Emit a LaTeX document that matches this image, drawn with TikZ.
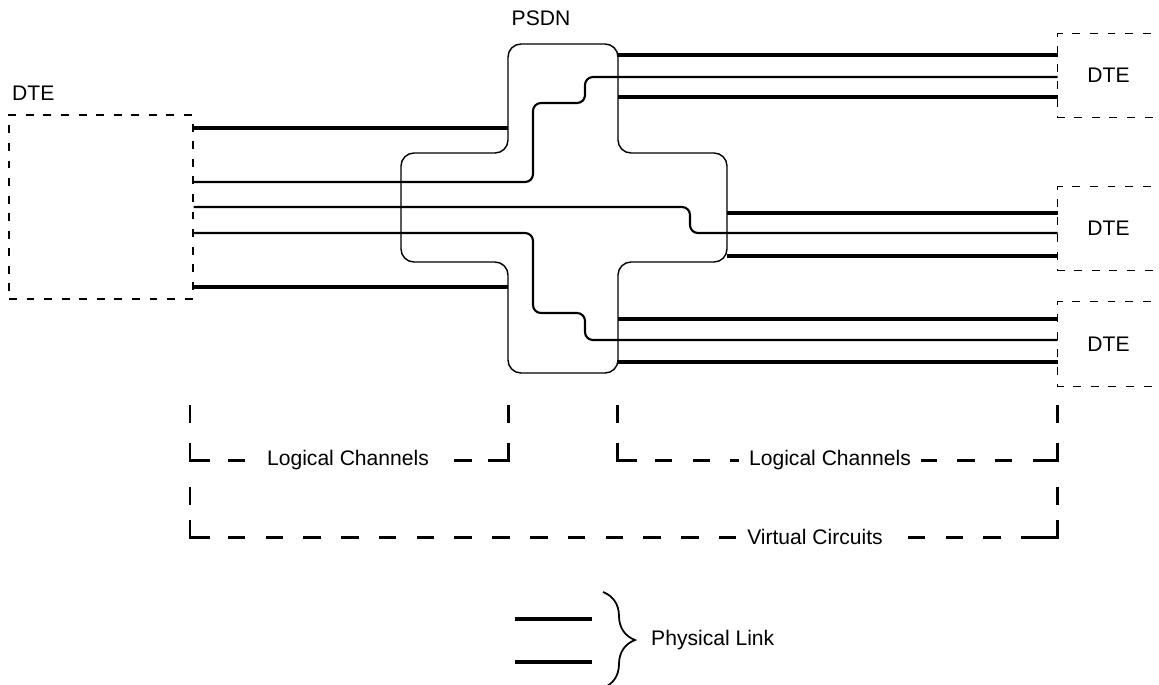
\documentclass[tikz,border=0pt]{standalone}
\usepackage{fontspec}
\setmainfont{Liberation Sans}
\usetikzlibrary{decorations.pathreplacing}

\tikzset{
  phys/.style={line width=2.3pt},
  chan/.style={line width=1.2pt, rounded corners=4.5pt},
  psdnline/.style={line width=0.8pt, rounded corners=7.4pt},
  dtebox/.style={line width=0.7pt, dash pattern=on 4.5pt off 5.5pt},
  bracket/.style={line width=1.7pt, dash pattern=on 10pt off 11.5pt},
  corner/.style={line width=1.7pt},
  lbl/.style={font=\fontsize{12}{14}\selectfont},
}

\begin{document}
\begin{tikzpicture}[x=0.02cm, y=-0.02cm]
\useasboundingbox (0,0) rectangle (1159,684);

\def\xhl{401}
\def\xvl{508}
\def\xvr{618}
\def\xhr{727}

\def\yvt{44}
\def\yht{153}
\def\yhb{262}
\def\yvb{373}

% the network cross
\draw[psdnline] (563,\yvt) -- (\xvr,\yvt) -- (\xvr,\yht) -- (\xhr,\yht) -- (\xhr,\yhb)
  -- (\xvr,\yhb) -- (\xvr,\yvb) -- (\xvl,\yvb) -- (\xvl,\yhb) -- (\xhl,\yhb)
  -- (\xhl,\yht) -- (\xvl,\yht) -- (\xvl,\yvt) -- cycle;
\node[lbl] (psdn) at (541,18) {PSDN};

\coordinate (vl) at (\xvl,0);
\coordinate (vr) at (\xvr,0);
\coordinate (hr) at (\xhr,0);

% terminals
\node[draw, dtebox, minimum width=3.68cm, minimum height=3.68cm] (dteL) at (101,207) {};
\node[lbl, anchor=west] (dteLtxt) at (6,93) {DTE};

\node[lbl, minimum width=2.02cm, minimum height=1.66cm] (dteA) at (1108.5,75.5) {DTE};
\node[lbl, minimum width=2.02cm, minimum height=1.66cm] (dteB) at (1108.5,228.5) {DTE};
\node[lbl, minimum width=2.02cm, minimum height=1.68cm] (dteC) at (1108.5,344) {DTE};

\foreach \d in {dteA,dteB,dteC}
  \draw[dtebox] ([xshift=5pt]\d.north east) -- (\d.north west) -- (\d.south west) -- ([xshift=5pt]\d.south east);

% physical links
\draw[phys] (dteL.east |- 0,128) -- (vl |- 0,128);
\draw[phys] (dteL.east |- 0,287) -- (vl |- 0,287);
\foreach \y in {55,97}
  \draw[phys] (vr |- 0,\y) -- (dteA.west |- 0,\y);
\foreach \y in {213,256}
  \draw[phys] (hr |- 0,\y) -- (dteB.west |- 0,\y);
\foreach \y in {319,362}
  \draw[phys] (vr |- 0,\y) -- (dteC.west |- 0,\y);

% channels through the network
\draw[chan] (dteL.east |- 0,182) -| (533,103) -| (585,77) -- (dteA.west |- 0,77);
\draw[chan] (dteL.east |- 0,207) -| (690,233) -- (dteB.west |- 0,233);
\draw[chan] (dteL.east |- 0,233) -| (533,313) -| (585,340) -- (dteC.west |- 0,340);

% brackets
\foreach \xa/\xb/\yt/\yb in {190/508/405/460, 617/1057/405/460, 190/1057/487/537}{
  \draw[bracket] (\xa,\yt) -- (\xa,\yb);
  \draw[bracket] (\xb,\yt) -- (\xb,\yb);
  \draw[bracket] (\xa,\yb) -- (\xb,\yb);
  \draw[corner] (\xa,\yb-17) |- (\xa+20,\yb);
  \draw[corner] (\xb-20,\yb) -| (\xb,\yb-17);
}
\node[lbl, fill=white, inner xsep=6pt] (lc1) at (348,460) {Logical Channels};
\node[lbl, fill=white, inner xsep=6pt] (lc2) at (830,460) {Logical Channels};
\node[lbl, fill=white, inner xsep=6pt] (vc) at (815,537) {Virtual Circuits};

% legend
\draw[phys] (515,619) -- (592,619);
\draw[phys] (515,662) -- (592,662);
\draw[line width=1pt, decorate, decoration={brace, amplitude=0.64cm}] (603,592) -- (603,688);
\node[lbl, anchor=west] (physlink) at (645,640) {Physical Link};

\end{tikzpicture}
\end{document}
